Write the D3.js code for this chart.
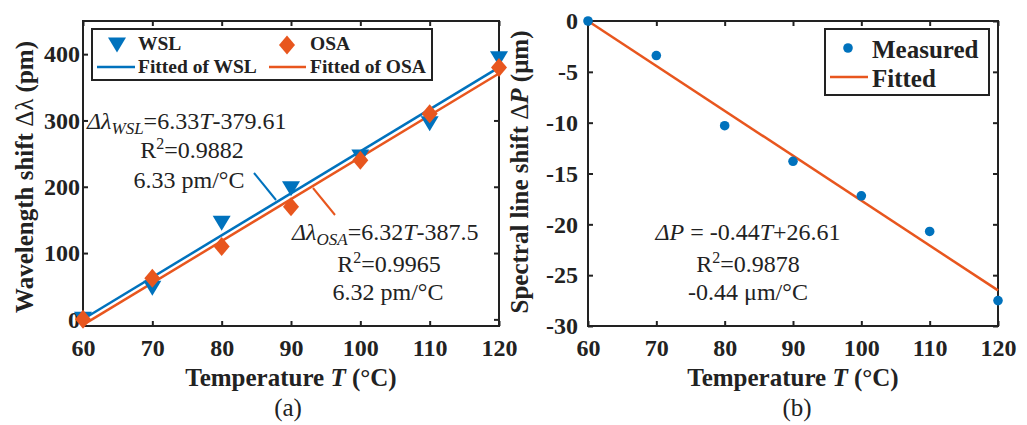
<!DOCTYPE html>
<html>
<head>
<meta charset="utf-8">
<script src="https://cdn.jsdelivr.net/npm/d3@7"></script>
<style>
  body { margin: 0; background: #fff; }
  svg { display: block; font-family: "Liberation Serif", "Times New Roman", serif; }
  .domain { display: none; }
  .tick line { stroke: #222; stroke-width: 2; }
</style>
</head>
<body>
<div id="chart"></div>
<script>
const temps = [60, 70, 80, 90, 100, 110, 120];
const wslShift = [0, 47, 145, 197, 245, 295, 393];
const osaShift = [0, 62, 110, 170, 240, 310, 380];
const fitT = [60, 120];
const wslFit = [0.2, 380];
const osaFit = [-8.3, 370.9];
const measuredP = [0, -3.4, -10.3, -13.8, -17.2, -20.7, -27.5];
const fittedP = [0, -26.5];
const xTicks = [60, 70, 80, 90, 100, 110, 120];
const aTicks = [0, 100, 200, 300, 400];
const bTicks = [0, -5, -10, -15, -20, -25, -30];

const blue = "#0072BD", orange = "#E8561E", ink = "#222";
const serif = "'Liberation Serif', 'Times New Roman', serif";

const width = 1027, height = 425;
const svg = d3.select("#chart").append("svg")
    .attr("width", width)
    .attr("height", height);

// ---------- panel (a) ----------
const xa = d3.scaleLinear().domain([60, 120]).range([83, 499]);
const ya = d3.scaleLinear().domain([-10, 450]).range([326, 21]);

// ---------- panel (b) ----------
const xb = d3.scaleLinear().domain([60, 120]).range([588, 998]);
const yb = d3.scaleLinear().domain([-30, 0]).range([326, 21]);

function styleAxis(sel) {
  sel.attr("font-family", serif).attr("font-size", 24).attr("font-weight", "bold");
  sel.selectAll(".tick text").attr("fill", ink);
}

// plain hyphen minus, like the original
const fmt = d => String(d);

function frame(x, y, yt, labelGap) {
  const g = svg.append("g");
  const [x0, x1] = x.range(), [y0, y1] = y.range();
  g.append("g").attr("transform", `translate(0,${y0})`)
    .call(d3.axisBottom(x).tickValues(xTicks).tickFormat(fmt).tickSizeInner(-5).tickSizeOuter(0).tickPadding(13))
    .call(styleAxis);
  g.append("g").attr("transform", `translate(0,${y1})`)
    .call(d3.axisTop(x).tickValues(xTicks).tickSizeInner(-5).tickSizeOuter(0).tickFormat(""));
  g.append("g").attr("transform", `translate(${x0},0)`)
    .call(d3.axisLeft(y).tickValues(yt).tickFormat(fmt).tickSizeInner(-5).tickSizeOuter(0).tickPadding(labelGap))
    .call(styleAxis);
  g.append("g").attr("transform", `translate(${x1},0)`)
    .call(d3.axisRight(y).tickValues(yt).tickSizeInner(-5).tickSizeOuter(0).tickFormat(""));
  g.append("rect")
    .attr("x", x0).attr("y", y1)
    .attr("width", x1 - x0).attr("height", y0 - y1)
    .attr("fill", "none").attr("stroke", ink).attr("stroke-width", 2);
  return g;
}

frame(xa, ya, aTicks, 3);
frame(xb, yb, bTicks, 10);

// markers
const tri = (w, h) => `M${-w/2},${-h/2}L${w/2},${-h/2}L0,${h/2}Z`;
const dia = (w, h) => `M0,${-h/2}L${w/2},0L0,${h/2}L${-w/2},0Z`;

const line = (x, y) => d3.line().x(d => x(d[0])).y(d => y(d[1]));

svg.append("path")
    .datum(d3.zip(fitT, wslFit))
    .attr("d", line(xa, ya))
    .attr("stroke", blue).attr("stroke-width", 2.5).attr("fill", "none");
svg.append("path")
    .datum(d3.zip(fitT, osaFit))
    .attr("d", line(xa, ya))
    .attr("stroke", orange).attr("stroke-width", 2.5).attr("fill", "none");

svg.append("g").selectAll("path")
    .data(d3.zip(temps, wslShift))
    .enter().append("path")
    .attr("d", tri(18, 15))
    .attr("transform", d => `translate(${xa(d[0])},${ya(d[1])})`)
    .attr("fill", blue);

svg.append("g").selectAll("path")
    .data(d3.zip(temps, osaShift))
    .enter().append("path")
    .attr("d", dia(16, 19))
    .attr("transform", d => `translate(${xa(d[0])},${ya(d[1])})`)
    .attr("fill", orange);

svg.append("path")
    .datum(d3.zip(fitT, fittedP))
    .attr("d", line(xb, yb))
    .attr("stroke", orange).attr("stroke-width", 2.5).attr("fill", "none");

svg.append("g").selectAll("circle")
    .data(d3.zip(temps, measuredP))
    .enter().append("circle")
    .attr("cx", d => xb(d[0]))
    .attr("cy", d => yb(d[1]))
    .attr("r", 4.8)
    .attr("fill", blue);

// legend (a)
svg.append("rect").attr("x", 92).attr("y", 29).attr("width", 340).attr("height", 51)
    .attr("fill", "#fff").attr("stroke", ink).attr("stroke-width", 2);
svg.append("path").attr("d", tri(18, 15)).attr("transform", "translate(117,45)").attr("fill", blue);
svg.append("path").attr("d", dia(16, 19)).attr("transform", "translate(287,45)").attr("fill", orange);
svg.append("line").attr("x1", 97).attr("x2", 135).attr("y1", 67).attr("y2", 67)
    .attr("stroke", blue).attr("stroke-width", 2.5);
svg.append("line").attr("x1", 269).attr("x2", 306).attr("y1", 67).attr("y2", 67)
    .attr("stroke", orange).attr("stroke-width", 2.5);
const legA = [["WSL", 138, 50], ["OSA", 310, 50], ["Fitted of WSL", 138, 73], ["Fitted of OSA", 310, 73]];
svg.append("g").selectAll("text").data(legA).enter().append("text")
    .attr("x", d => d[1]).attr("y", d => d[2])
    .attr("font-size", 19.5).attr("font-weight", "bold").attr("fill", ink)
    .text(d => d[0]);

// legend (b)
svg.append("rect").attr("x", 825).attr("y", 29).attr("width", 164).attr("height", 66)
    .attr("fill", "#fff").attr("stroke", ink).attr("stroke-width", 2);
svg.append("circle").attr("cx", 848).attr("cy", 48).attr("r", 4.8).attr("fill", blue);
svg.append("line").attr("x1", 830).attr("x2", 868).attr("y1", 77).attr("y2", 77)
    .attr("stroke", orange).attr("stroke-width", 2.5);
svg.append("text").attr("x", 872).attr("y", 58).attr("font-size", 25).attr("font-weight", "bold")
    .attr("fill", ink).text("Measured");
svg.append("text").attr("x", 872).attr("y", 87).attr("font-size", 25).attr("font-weight", "bold")
    .attr("fill", ink).text("Fitted");

// annotation helpers
function eq(x, y, anchor) {
  return svg.append("text").attr("x", x).attr("y", y)
      .attr("font-size", 24).attr("fill", ink).attr("text-anchor", anchor);
}
let t = eq(87, 129, "start");
t.append("tspan").attr("font-style", "italic").text("Δλ");
t.append("tspan").attr("font-style", "italic").attr("font-size", 17).attr("dy", 5).text("WSL");
t.append("tspan").attr("dy", -5).text("=6.33");
t.append("tspan").attr("font-style", "italic").text("T");
t.append("tspan").text("-379.61");

t = eq(192, 158, "middle");
t.append("tspan").text("R");
t.append("tspan").attr("font-size", 16).attr("dy", -9).text("2");
t.append("tspan").attr("dy", 9).text("=0.9882");
eq(189, 188, "middle").text("6.33 pm/°C");

t = eq(292, 240, "start");
t.append("tspan").attr("font-style", "italic").text("Δλ");
t.append("tspan").attr("font-style", "italic").attr("font-size", 17).attr("dy", 5).text("OSA");
t.append("tspan").attr("dy", -5).text("=6.32");
t.append("tspan").attr("font-style", "italic").text("T");
t.append("tspan").text("-387.5");

t = eq(389, 272, "middle");
t.append("tspan").text("R");
t.append("tspan").attr("font-size", 16).attr("dy", -9).text("2");
t.append("tspan").attr("dy", 9).text("=0.9965");
eq(388, 300, "middle").text("6.32 pm/°C");

// leader lines
svg.append("line").attr("x1", 254).attr("y1", 173).attr("x2", 276).attr("y2", 200)
    .attr("stroke", blue).attr("stroke-width", 2);
svg.append("line").attr("x1", 313).attr("y1", 188).attr("x2", 335).attr("y2", 215)
    .attr("stroke", orange).attr("stroke-width", 2);

t = eq(748, 240, "middle");
t.append("tspan").attr("font-style", "italic").text("ΔP");
t.append("tspan").text(" = -0.44");
t.append("tspan").attr("font-style", "italic").text("T");
t.append("tspan").text("+26.61");

t = eq(748, 272, "middle");
t.append("tspan").text("R");
t.append("tspan").attr("font-size", 16).attr("dy", -9).text("2");
t.append("tspan").attr("dy", 9).text("=0.9878");
eq(748, 300, "middle").text("-0.44 μm/°C");

// axis titles
function xTitle(cx) {
  const tt = svg.append("text").attr("x", cx).attr("y", 386)
      .attr("text-anchor", "middle").attr("font-size", 25).attr("font-weight", "bold").attr("fill", ink);
  tt.append("tspan").text("Temperature  ");
  tt.append("tspan").attr("font-style", "italic").text("T");
  tt.append("tspan").text(" (°C)");
}
xTitle(291);
xTitle(793);

svg.append("text").attr("x", 288).attr("y", 416).attr("text-anchor", "middle")
    .attr("font-size", 25).attr("fill", ink).text("(a)");
svg.append("text").attr("x", 797).attr("y", 416).attr("text-anchor", "middle")
    .attr("font-size", 25).attr("fill", ink).text("(b)");

let yl = svg.append("text").attr("transform", "translate(33,177) rotate(-90)")
    .attr("text-anchor", "middle").attr("font-size", 25).attr("font-weight", "bold").attr("fill", ink);
yl.append("tspan").text("Wavelength shift  ");
yl.append("tspan").attr("font-weight", "normal").text("Δλ");
yl.append("tspan").text(" (pm)");

yl = svg.append("text").attr("transform", "translate(528,172) rotate(-90)")
    .attr("text-anchor", "middle").attr("font-size", 25).attr("font-weight", "bold").attr("fill", ink);
yl.append("tspan").text("Spectral line shift  ");
yl.append("tspan").attr("font-weight", "normal").text("Δ");
yl.append("tspan").attr("font-style", "italic").text("P");
yl.append("tspan").text(" (μm)");
</script>
</body>
</html>
